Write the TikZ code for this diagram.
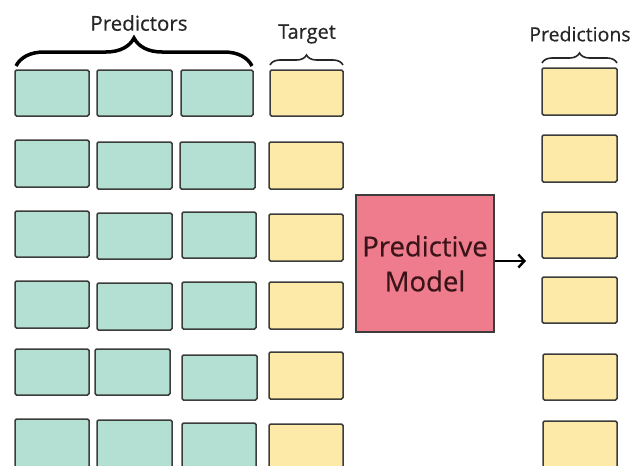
\documentclass[tikz,border=0pt]{standalone}
\usepackage{fontspec}
\setmainfont{Open Sans}
\newfontfamily\hfont[FakeBold=0.5]{Open Sans}
\usetikzlibrary{fit,arrows.meta,decorations.pathreplacing}
\definecolor{gfill}{HTML}{B3E0D2}
\definecolor{yfill}{HTML}{FDE9A8}
\definecolor{pfill}{HTML}{EE7C8C}
\definecolor{edge}{HTML}{3C3C3A}
\definecolor{txt}{HTML}{262626}
\definecolor{pmtxt}{HTML}{3A1418}
\begin{document}
\begin{tikzpicture}[x=1pt,y=1pt,yscale=-1,
  cellbox/.style={draw=edge,line width=1.5pt,rounded corners=1.5pt,inner sep=0pt},
  gbox/.style={cellbox,fill=gfill},
  ybox/.style={cellbox,fill=yfill},
  pmbox/.style={draw=edge,line width=1.5pt,fill=pfill,inner sep=0pt,minimum width=138pt,minimum height=137pt,align=center,text=pmtxt,font=\hfont\fontsize{27.5}{35}\selectfont},
  headtxt/.style={text=txt,inner sep=0pt},
  bigbrace/.style={decorate,decoration={brace,amplitude=28pt,aspect=0.5},line width=3.5pt,draw=black},
  smallbrace/.style={decorate,decoration={brace,amplitude=10pt,aspect=0.5},line width=1.6pt,draw=black!85},
  arr/.style={-{Straight Barb[length=6pt,width=13pt,line width=2.4pt]},line width=2.6pt,draw=black}
]
\useasboundingbox (0,0) rectangle (635,466);
% row 1
\node[gbox,fit={(15,70) (89,116)}] (g11) {};
\node[gbox,fit={(97,70) (172,116)}] (g12) {};
\node[gbox,fit={(181,70) (253,116)}] (g13) {};
\node[ybox,fit={(270,70) (343,116)}] (t1) {};
% row 2
\node[gbox,fit={(15,140) (89,187)}] (g21) {};
\node[gbox,fit={(97,142) (172,189)}] (g22) {};
\node[gbox,fit={(180,142) (255,189)}] (g23) {};
\node[ybox,fit={(269,142) (343,189)}] (t2) {};
% row 3
\node[gbox,fit={(15,211) (89,257)}] (g31) {};
\node[gbox,fit={(97,213) (172,259)}] (g32) {};
\node[gbox,fit={(182,212) (256,258)}] (g33) {};
\node[ybox,fit={(269,214) (343,261)}] (t3) {};
% row 4
\node[gbox,fit={(15,281) (89,328)}] (g41) {};
\node[gbox,fit={(97,283) (172,330)}] (g42) {};
\node[gbox,fit={(182,282) (256,329)}] (g43) {};
\node[ybox,fit={(269,282) (343,329)}] (t4) {};
% row 5
\node[gbox,fit={(15,349) (89,395)}] (g51) {};
\node[gbox,fit={(95,349) (170,395)}] (g52) {};
\node[gbox,fit={(182,355) (257,400)}] (g53) {};
\node[ybox,fit={(269,352) (343,399)}] (t5) {};
% row 6
\node[gbox,fit={(15,419) (89,470)}] (g61) {};
\node[gbox,fit={(97,420) (172,470)}] (g62) {};
\node[gbox,fit={(182,423) (256,470)}] (g63) {};
\node[ybox,fit={(269,424) (343,470)}] (t6) {};
% predictions
\node[ybox,fit={(542,68) (617,115)}] (p1) {};
\node[ybox,fit={(542,135) (617,182)}] (p2) {};
\node[ybox,fit={(542,212) (617,258)}] (p3) {};
\node[ybox,fit={(542,277) (617,323)}] (p4) {};
\node[ybox,fit={(543,354) (617,400)}] (p5) {};
\node[ybox,fit={(543,421) (617,470)}] (p6) {};
% model
\node[pmbox] (pm) at (425,263.5) {Predictive\\Model};
\coordinate (arrend) at (526,261);
\draw[arr] (pm.east |- arrend) -- (arrend);
% headers
\node[headtxt,font=\hfont\fontsize{20.5}{24}\selectfont] (hpred) at (139,23) {Predictors};
\node[headtxt,font=\hfont\fontsize{20}{22}\selectfont] (htarget) at (307,34) {Target};
\node[headtxt,font=\hfont\fontsize{19.5}{22}\selectfont] (hpreds) at (580,34) {Predictions};
% braces
\coordinate (b1a) at (16,66); \coordinate (b1b) at (252,66);
\draw[bigbrace] (b1a) -- (b1b);
\coordinate (b2a) at (270,65); \coordinate (b2b) at (343,65);
\draw[smallbrace] (b2a) -- (b2b);
\coordinate (b3a) at (542,63); \coordinate (b3b) at (617,63);
\draw[smallbrace] (b3a) -- (b3b);
\end{tikzpicture}
\end{document}
